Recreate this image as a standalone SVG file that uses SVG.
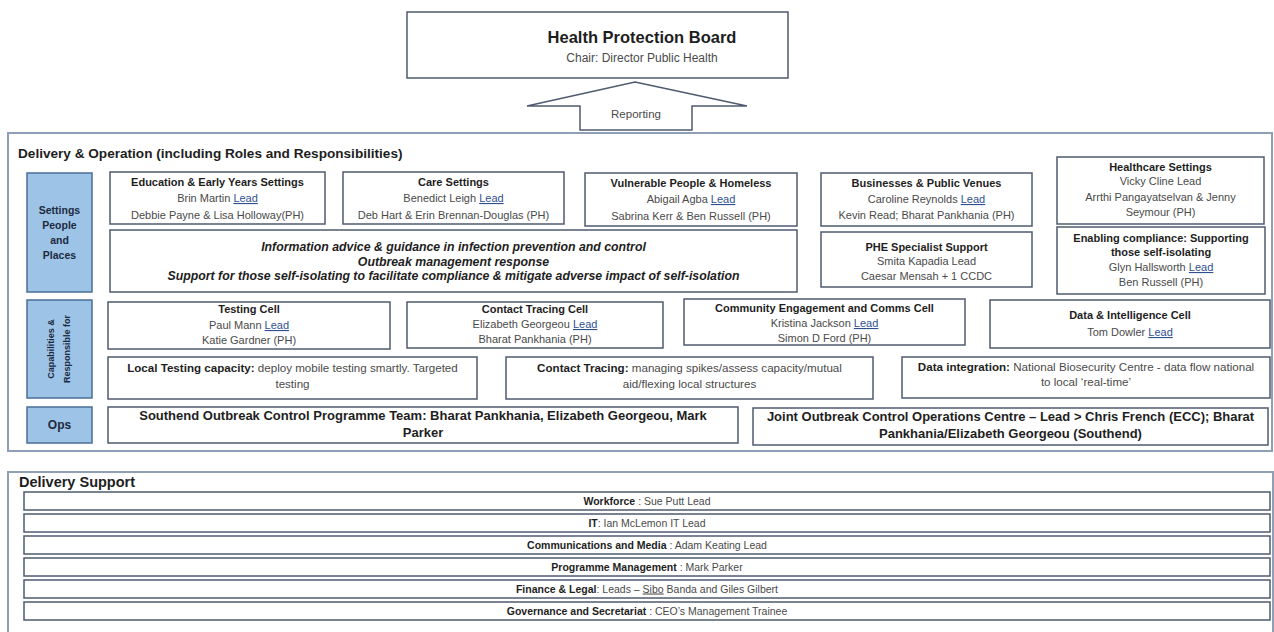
<svg xmlns="http://www.w3.org/2000/svg" width="1274" height="632" viewBox="0 0 1274 632">
<style>
text{font-family:"Liberation Sans",Arial,sans-serif;}
.box{fill:#fff;stroke:#4f5b6e;stroke-width:1.5}
.outer{fill:none;stroke:#8fa0b6;stroke-width:2}
.lbl{fill:#9dc3e6;stroke:#4a6f96;stroke-width:1.5}
.lt{font-size:10.5px;font-weight:bold;fill:#1c2a40;text-anchor:middle}
.b{font-size:11px;font-weight:bold;fill:#1e1e1e;text-anchor:middle}
.r{font-size:11px;fill:#4a4a4a;text-anchor:middle}
.u{fill:#2f4f8f;text-decoration:underline}
.ops{font-size:13px;font-weight:bold;fill:#1e1e1e;text-anchor:middle}
.inf{font-size:12.3px;font-weight:bold;font-style:italic;fill:#1e1e1e;text-anchor:middle}
.mix{font-size:11.6px;fill:#4a4a4a;text-anchor:middle}
.mix tspan.k{font-weight:bold;fill:#1e1e1e}
.sup{font-size:10.5px;fill:#4a4a4a;text-anchor:middle}
.sup tspan.k{font-weight:bold;fill:#1e1e1e}
</style>

<g id="health-protection-board">
<rect class="box" x="407" y="12" width="381" height="66"/>
<text x="642" y="43" style="font-size:16.5px;font-weight:bold;fill:#1e1e1e;text-anchor:middle">Health Protection Board</text>
<text x="642" y="62" style="font-size:12px;fill:#4a4a4a;text-anchor:middle">Chair: Director Public Health</text>
</g>

<g id="connectors">
<polygon id="reporting-arrow" points="635,82 747,106 692,106 692,130 580,130 580,106 527,106" fill="#fff" stroke="#4f5b6e" stroke-width="1.5"/>
<text x="636" y="118" style="font-size:11.5px;fill:#4a4a4a;text-anchor:middle">Reporting</text>
</g>

<g id="delivery-operation">
<rect class="outer" x="8" y="133" width="1264" height="318"/>
<text x="18" y="158" style="font-size:13.6px;font-weight:bold;fill:#1e1e1e">Delivery &amp; Operation (including Roles and Responsibilities)</text>
</g>

<g id="label-settings">
<rect class="lbl" x="27" y="173" width="65" height="119"/>
<text class="lt" x="59.5" y="214">Settings</text>
<text class="lt" x="59.5" y="229">People</text>
<text class="lt" x="59.5" y="244">and</text>
<text class="lt" x="59.5" y="259">Places</text>
</g>

<g id="label-capabilities">
<rect class="lbl" x="27" y="300" width="65" height="98"/>
<text class="lt" style="font-size:9px" transform="translate(54,349) rotate(-90)">Capabilities &amp;</text>
<text class="lt" style="font-size:9px" transform="translate(70,349) rotate(-90)">Responsible for</text>
</g>

<g id="label-ops">
<rect class="lbl" x="27" y="407" width="65" height="36"/>
<text class="lt" style="font-size:12px" x="59.5" y="429">Ops</text>
</g>

<g id="education">
<rect class="box" x="110" y="172" width="215" height="52"/>
<text class="b" x="217.5" y="186">Education &amp; Early Years Settings</text>
<text class="r" x="217.5" y="202">Brin Martin <tspan class="u">Lead</tspan></text>
<text class="r" x="217.5" y="219">Debbie Payne &amp; Lisa Holloway(PH)</text>
</g>

<g id="care">
<rect class="box" x="343" y="172" width="221" height="52"/>
<text class="b" x="453.5" y="186">Care Settings</text>
<text class="r" x="453.5" y="202">Benedict Leigh <tspan class="u">Lead</tspan></text>
<text class="r" x="453.5" y="219">Deb Hart &amp; Erin Brennan-Douglas (PH)</text>
</g>

<g id="vulnerable">
<rect class="box" x="585" y="173" width="212" height="53"/>
<text class="b" x="691" y="187">Vulnerable People &amp; Homeless</text>
<text class="r" x="691" y="203">Abigail Agba <tspan class="u">Lead</tspan></text>
<text class="r" x="691" y="220">Sabrina Kerr &amp; Ben Russell (PH)</text>
</g>

<g id="businesses">
<rect class="box" x="821" y="173" width="211" height="53"/>
<text class="b" x="926.5" y="187">Businesses &amp; Public Venues</text>
<text class="r" x="926.5" y="203">Caroline Reynolds <tspan class="u">Lead</tspan></text>
<text class="r" x="926.5" y="219">Kevin Read; Bharat Pankhania (PH)</text>
</g>

<g id="healthcare">
<rect class="box" x="1057" y="157" width="207" height="67"/>
<text class="b" x="1160.5" y="171">Healthcare Settings</text>
<text class="r" x="1160.5" y="185">Vicky Cline Lead</text>
<text class="r" x="1160.5" y="201">Arrthi Pangayatselvan &amp; Jenny</text>
<text class="r" x="1160.5" y="216">Seymour (PH)</text>
</g>

<g id="information">
<rect class="box" x="110" y="230" width="687" height="62"/>
<text class="inf" x="453.5" y="251">Information advice &amp; guidance in infection prevention and control</text>
<text class="inf" x="453.5" y="266">Outbreak management response</text>
<text class="inf" x="453.5" y="280">Support for those self-isolating to facilitate compliance &amp; mitigate adverse impact of self-isolation</text>
</g>

<g id="phe">
<rect class="box" x="821" y="232" width="211" height="55"/>
<text class="b" x="926.5" y="251">PHE Specialist Support</text>
<text class="r" x="926.5" y="265">Smita Kapadia Lead</text>
<text class="r" x="926.5" y="280">Caesar Mensah + 1 CCDC</text>
</g>

<g id="enabling">
<rect class="box" x="1057" y="227" width="208" height="67"/>
<text class="b" x="1161" y="242">Enabling compliance: Supporting</text>
<text class="b" x="1161" y="256">those self-isolating</text>
<text class="r" x="1161" y="271">Glyn Hallsworth <tspan class="u">Lead</tspan></text>
<text class="r" x="1161" y="286">Ben Russell (PH)</text>
</g>

<g id="testing-cell">
<rect class="box" x="108" y="302" width="282" height="47"/>
<text class="b" x="249" y="313">Testing Cell</text>
<text class="r" x="249" y="329">Paul Mann <tspan class="u">Lead</tspan></text>
<text class="r" x="249" y="344">Katie Gardner (PH)</text>
</g>

<g id="contact-tracing-cell">
<rect class="box" x="407" y="302" width="256" height="46"/>
<text class="b" x="535" y="313">Contact Tracing Cell</text>
<text class="r" x="535" y="328">Elizabeth Georgeou <tspan class="u">Lead</tspan></text>
<text class="r" x="535" y="343">Bharat Pankhania (PH)</text>
</g>

<g id="community-cell">
<rect class="box" x="684" y="299" width="281" height="46"/>
<text class="b" x="824.5" y="312">Community Engagement and Comms Cell</text>
<text class="r" x="824.5" y="327">Kristina Jackson <tspan class="u">Lead</tspan></text>
<text class="r" x="824.5" y="342">Simon D Ford (PH)</text>
</g>

<g id="data-intelligence-cell">
<rect class="box" x="990" y="300" width="280" height="48"/>
<text class="b" x="1130" y="319">Data &amp; Intelligence Cell</text>
<text class="r" x="1130" y="336">Tom Dowler <tspan class="u">Lead</tspan></text>
</g>

<g id="local-testing">
<rect class="box" x="108" y="357" width="369" height="42"/>
<text class="mix" x="292.5" y="372"><tspan class="k">Local Testing capacity:</tspan> deploy mobile testing smartly.  Targeted</text>
<text class="mix" x="292.5" y="388">testing</text>
</g>

<g id="contact-tracing">
<rect class="box" x="506" y="357" width="367" height="42"/>
<text class="mix" x="689.5" y="372"><tspan class="k">Contact Tracing:</tspan> managing spikes/assess capacity/mutual</text>
<text class="mix" x="689.5" y="388">aid/flexing local structures</text>
</g>

<g id="data-integration">
<rect class="box" x="902" y="357" width="368" height="41"/>
<text class="mix" x="1086" y="371"><tspan class="k">Data integration:</tspan> National Biosecurity Centre - data flow national</text>
<text class="mix" x="1086" y="386">to local ‘real-time’</text>
</g>

<g id="southend-team">
<rect class="box" x="108" y="407" width="630" height="36"/>
<text class="ops" x="423" y="420">Southend Outbreak Control Programme Team: Bharat Pankhania, Elizabeth Georgeou, Mark</text>
<text class="ops" x="423" y="437">Parker</text>
</g>

<g id="joint-centre">
<rect class="box" x="753" y="408" width="515" height="37"/>
<text class="ops" x="1010.5" y="421">Joint Outbreak Control Operations Centre – Lead &gt; Chris French (ECC); Bharat</text>
<text class="ops" x="1010.5" y="438">Pankhania/Elizabeth Georgeou (Southend)</text>
</g>

<g id="delivery-support">
<rect class="outer" x="8" y="472" width="1265" height="175"/>
<text x="19" y="487" style="font-size:14.5px;font-weight:bold;fill:#1e1e1e">Delivery Support</text>
</g>

<g id="workforce">
<rect class="box" x="24" y="492" width="1246" height="18"/>
<text class="sup" x="647" y="504.5"><tspan class="k">Workforce</tspan> : Sue Putt Lead</text>
</g>
<g id="it">
<rect class="box" x="24" y="514" width="1246" height="18"/>
<text class="sup" x="647" y="526.5"><tspan class="k">IT</tspan>: Ian McLemon IT Lead</text>
</g>
<g id="communications">
<rect class="box" x="24" y="536" width="1246" height="18"/>
<text class="sup" x="647" y="548.5"><tspan class="k">Communications and Media</tspan> : Adam Keating Lead</text>
</g>
<g id="programme-management">
<rect class="box" x="24" y="558" width="1246" height="18"/>
<text class="sup" x="647" y="570.5"><tspan class="k">Programme Management</tspan> :  Mark Parker</text>
</g>
<g id="finance-legal">
<rect class="box" x="24" y="580" width="1246" height="18"/>
<text class="sup" x="647" y="592.5"><tspan class="k">Finance &amp; Legal</tspan>: Leads – <tspan style="text-decoration:underline">Sibo</tspan>  Banda  and Giles Gilbert</text>
</g>
<g id="governance">
<rect class="box" x="24" y="602" width="1246" height="18"/>
<text class="sup" x="647" y="614.5"><tspan class="k">Governance and Secretariat</tspan> : CEO’s Management Trainee</text>
</g>
</svg>
